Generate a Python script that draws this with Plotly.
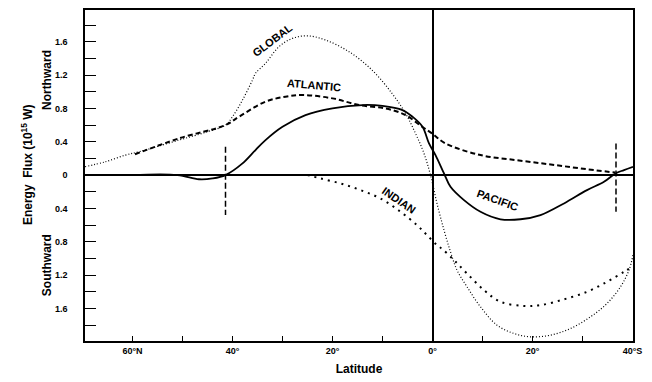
import plotly.graph_objects as go

# Latitude: positive = North, negative = South
global_lat = [69.5, 65.4, 61.4, 58.7, 50.7, 45.0, 41.4, 40.0, 38.0, 36.0, 35.4, 33.4, 30.7, 28.0, 25.0,
              21.4, 16.7, 12.1, 8.1, 5.4, 3.4, 1.7, 0.4, -0.9, -2.3, -3.6, -4.9, -6.9, -9.6, -12.9,
              -16.3, -19.6, -23.6, -27.6, -31.6, -34.9, -37.6, -39.3, -40.1]
global_val = [0.10, 0.16, 0.24, 0.28, 0.42, 0.52, 0.60, 0.70, 0.90, 1.14, 1.22, 1.34, 1.54, 1.64, 1.67,
              1.62, 1.48, 1.26, 0.98, 0.74, 0.50, 0.26, 0.00, -0.34, -0.66, -0.92, -1.14, -1.34, -1.58, -1.80,
              -1.90, -1.94, -1.92, -1.84, -1.70, -1.54, -1.34, -1.14, -0.96]

atlantic_lat = [59.5, 50.7, 41.4, 38.7, 33.4, 29.4, 26.0, 20.0, 14.7, 9.4, 5.4, 2.1, 0.1, -2.6,
                -9.6, -16.7, -23.3, -29.6, -36.5]
atlantic_val = [0.25, 0.44, 0.60, 0.70, 0.88, 0.94, 0.96, 0.92, 0.84, 0.80, 0.72, 0.58, 0.50, 0.38,
                0.24, 0.18, 0.13, 0.08, 0.03]

pacific_lat = [60.0, 51.0, 46.7, 44.0, 41.4, 38.0, 35.4, 33.4, 30.0, 25.4, 20.0, 14.0, 10.0, 6.0, 4.0,
               2.0, 0.7, -0.6, -2.3, -3.6, -6.3, -9.6, -13.6, -17.6, -21.6, -26.3, -30.9, -34.3,
               -36.6, -38.3, -40.1]
pacific_val = [0.0, 0.0, -0.05, -0.04, 0.0, 0.14, 0.30, 0.42, 0.58, 0.72, 0.80, 0.84, 0.83, 0.78, 0.70,
               0.58, 0.38, 0.24, 0.02, -0.14, -0.30, -0.44, -0.53, -0.53, -0.48, -0.34, -0.18, -0.08,
               0.02, 0.06, 0.10]

indian_lat = [25.0, 22.4, 18.4, 14.4, 10.4, 6.4, 3.1, 1.1, -0.9, -2.0, -4.3, -6.9, -10.3, -13.6,
              -18.3, -21.6, -26.3, -30.9, -34.9, -38.3, -39.9]
indian_val = [0.0, -0.04, -0.10, -0.18, -0.28, -0.44, -0.60, -0.72, -0.84, -0.89, -1.02, -1.18, -1.38,
              -1.52, -1.57, -1.56, -1.49, -1.40, -1.28, -1.16, -1.10]

boundary_lats = [41.4, -36.7]
boundary_top = [0.34, 0.38]
boundary_bottom = [-0.48, -0.44]

x_tickvals = [60, 40, 20, 0, -20, -40]
x_ticktext = ["60°N", "40°", "20°", "0°", "20°", "40°S"]
x_minor = [50, 30, 10, -10, -30]
y_tickvals = [1.6, 1.2, 0.8, 0.4, 0, -0.4, -0.8, -1.2, -1.6]
y_ticktext = ["1.6", "1.2", "0.8", "0.4", "0", "0.4", "0.8", "1.2", "1.6"]
y_minor = [1.8, 1.4, 1.0, 0.6, 0.2, -0.2, -0.6, -1.0, -1.4, -1.8]

labels = [("GLOBAL", 32.0, 1.62, -37), ("ATLANTIC", 23.8, 1.08, 5),
          ("INDIAN", 6.8, -0.30, 35), ("PACIFIC", -13.0, -0.30, 20)]

FONT = "Liberation Sans, Arial, sans-serif"

# page has an 8px body margin; compensate so the plot area lands at x 85..633, y 10..341
W, H = 644, 374
ML, MR, MT, MB = 77, 19, 2, 41
plot_w = W - ML - MR

fig = go.Figure()
fig.add_trace(go.Scatter(x=global_lat, y=global_val, mode="lines", line_shape="spline",
                         line=dict(color="black", width=1.2, dash="1px,2px")))
fig.add_trace(go.Scatter(x=atlantic_lat, y=atlantic_val, mode="lines", line_shape="spline",
                         line=dict(color="black", width=2, dash="5px,3px")))
fig.add_trace(go.Scatter(x=pacific_lat, y=pacific_val, mode="lines", line_shape="spline",
                         line=dict(color="black", width=1.8)))
fig.add_trace(go.Scatter(x=indian_lat, y=indian_val, mode="lines", line_shape="spline",
                         line=dict(color="black", width=2, dash="2px,5px")))
for lat, top, bot in zip(boundary_lats, boundary_top, boundary_bottom):
    fig.add_trace(go.Scatter(x=[lat, lat], y=[top, bot], mode="lines",
                             line=dict(color="black", width=1.5, dash="6px,3px")))

for text, lx, ly, ang in labels:
    fig.add_annotation(x=lx, y=ly, xref="x", yref="y", text=text, showarrow=False,
                       textangle=ang, font=dict(family=FONT, size=11, color="black", weight="bold"))

side_titles = [("Energy  Flux (10<sup>15</sup> W)", 27, 0.12),
               ("Northward", 47, 1.14), ("Southward", 47, -1.08)]
for text, px, ly in side_titles:
    fig.add_annotation(x=(px - 8 - ML) / plot_w, y=ly, xref="paper", yref="y", text=text,
                       xanchor="center", yanchor="middle", showarrow=False, textangle=-90,
                       font=dict(family=FONT, size=12, color="black", weight="bold"))

fig.update_layout(
    template="none",
    width=W, height=H, margin=dict(l=ML, r=MR, t=MT, b=MB, autoexpand=False),
    paper_bgcolor="white", plot_bgcolor="white", showlegend=False,
    font=dict(family=FONT, color="black"),
    xaxis=dict(range=[69.5, -40.1], tickvals=x_tickvals, ticktext=x_ticktext, automargin=False,
               ticks="inside", ticklen=5, tickwidth=1.2, tickcolor="black",
               minor=dict(tickvals=x_minor, ticks="inside", ticklen=5, tickwidth=1.2, tickcolor="black"),
               showgrid=False, zeroline=True, zerolinecolor="black", zerolinewidth=1.5,
               showline=True, linecolor="black", linewidth=1.5, mirror=True,
               tickfont=dict(family=FONT, size=9, weight="bold"),
               title=dict(text="Latitude", font=dict(family=FONT, size=12, weight="bold"), standoff=10)),
    yaxis=dict(range=[-1.99, 1.98], tickvals=y_tickvals, ticktext=y_ticktext, automargin=False,
               ticks="inside", ticklen=11, tickwidth=1.2, tickcolor="black",
               minor=dict(tickvals=y_minor, ticks="inside", ticklen=11, tickwidth=1.2, tickcolor="black"),
               showgrid=False, zeroline=True, zerolinecolor="black", zerolinewidth=1.5,
               showline=True, linecolor="black", linewidth=1.5, mirror=True,
               tickfont=dict(family=FONT, size=9, weight="bold"), ticklabelstandoff=14),
)

fig.write_html("out.html")
